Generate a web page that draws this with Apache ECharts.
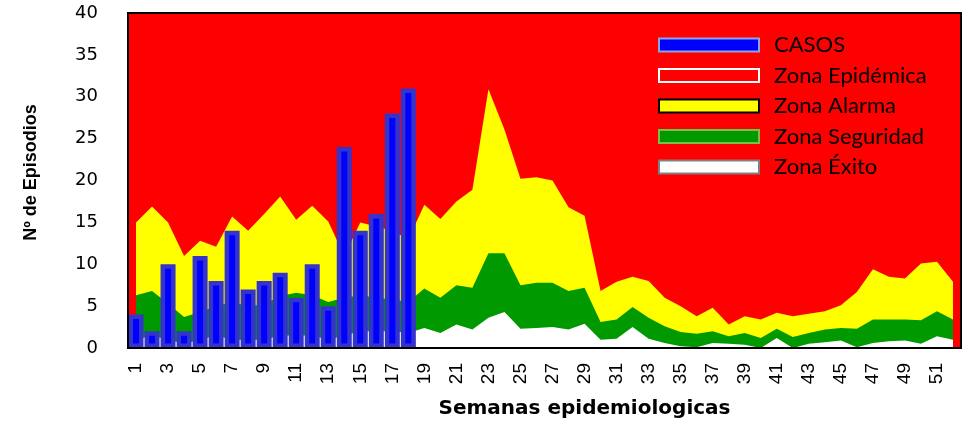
<!DOCTYPE html>
<html>
<head>
<meta charset="utf-8">
<script src="https://cdn.jsdelivr.net/npm/echarts@6/dist/echarts.min.js"></script>
<style>
html,body{margin:0;padding:0;background:#fff;}
#chart{width:968px;height:426px;}
</style>
</head>
<body>
<div id="chart"></div>
<script>
var semanas = ['1','2','3','4','5','6','7','8','9','10','11','12','13','14','15','16','17','18','19','20','21','22','23','24','25','26','27','28','29','30','31','32','33','34','35','36','37','38','39','40','41','42','43','44','45','46','47','48','49','50','51','52'];
var casos = [4,2,10,2,11,8,14,7,8,9,6,10,5,24,14,16,28,31];
var zonaAlarma = [15.0,16.9,15.0,11.0,12.8,12.1,15.7,14.0,16.0,18.1,15.3,17.0,15.1,11.0,15.0,14.5,14.0,13.0,17.1,15.4,17.5,18.9,30.9,26.1,20.2,20.4,20.0,16.8,15.8,6.8,7.9,8.5,8.0,6.0,5.0,3.8,4.8,2.8,3.8,3.4,4.2,3.8,4.1,4.4,5.1,6.7,9.4,8.5,8.3,10.1,10.3,7.9];
var zonaSeguridad = [6.3,6.8,5.3,3.7,4.3,5.0,5.5,5.0,5.2,6.2,6.6,6.3,5.5,6.0,6.3,6.0,5.8,5.5,7.1,6.0,7.5,7.2,11.3,11.3,7.5,7.8,7.8,6.8,7.2,3.1,3.4,4.9,3.6,2.6,1.9,1.7,2.0,1.4,1.8,1.2,2.3,1.3,1.8,2.2,2.4,2.3,3.4,3.4,3.4,3.3,4.4,3.4];
var zonaExito = [1.0,1.5,1.0,0.5,1.0,1.5,1.0,1.0,1.0,1.5,1.5,1.5,1.0,1.5,2.0,2.0,2.0,1.8,2.4,1.8,2.8,2.2,3.6,4.3,2.3,2.4,2.5,2.2,2.9,1.0,1.1,2.5,1.1,0.6,0.2,0.1,0.6,0.5,0.4,0.0,1.2,0.0,0.5,0.7,0.9,0.1,0.6,0.8,0.9,0.5,1.4,1.0];
var yTicks = [0,5,10,15,20,25,30,35,40];

var chart = echarts.init(document.getElementById('chart'));
function areaSeries(name, data, color) {
  return {
    name: name, type: 'line', data: data, symbol: 'none', showSymbol: false,
    lineStyle: {width: 0}, itemStyle: {color: color},
    areaStyle: {color: color, opacity: 1}, z: 2, silent: true
  };
}
chart.setOption({
  animation: false,
  grid: {left: 128, right: 7, top: 13, bottom: 78, show: true,
         backgroundColor: '#ff0000', borderColor: '#000', borderWidth: 2},
  legend: {
    orient: 'vertical', left: 658, top: 34, padding: 0, itemGap: 8.5,
    itemWidth: 100, itemHeight: 13,
    textStyle: {fontFamily: 'Lato', fontSize: 22, color: '#000', padding: [10, 0, 0, 10]},
    data: [
      {name: 'CASOS', icon: 'rect', itemStyle: {color: '#0000ff', borderColor: '#8ea2e8', borderWidth: 2}},
      {name: 'Zona Epidémica', icon: 'rect', itemStyle: {color: '#ff0000', borderColor: '#ffffff', borderWidth: 2}},
      {name: 'Zona Alarma', icon: 'rect', itemStyle: {color: '#ffff00', borderColor: '#000000', borderWidth: 2}},
      {name: 'Zona Seguridad', icon: 'rect', itemStyle: {color: '#009900', borderColor: '#7bbf4a', borderWidth: 2}},
      {name: 'Zona Éxito', icon: 'rect', itemStyle: {color: '#ffffff', borderColor: '#808080', borderWidth: 2}}
    ],
    selectedMode: false
  },
  xAxis: {
    type: 'category', data: semanas, boundaryGap: true, z: 10,
    axisLine: {show: true, lineStyle: {color: '#000', width: 2}},
    axisTick: {show: false},
    axisLabel: {interval: 1, rotate: 90, margin: 15, fontFamily: 'Liberation Sans', fontSize: 19, color: '#000'},
    name: 'Semanas epidemiologicas', nameLocation: 'middle', nameGap: 51,
    nameTextStyle: {fontFamily: 'DejaVu Sans', fontWeight: 'bold', fontSize: 20, color: '#000', padding: [0, 0, 0, 80]}
  },
  yAxis: {
    type: 'value', min: yTicks[0], max: yTicks[yTicks.length - 1], interval: 5, z: 10,
    axisLine: {show: true, lineStyle: {color: '#000', width: 2}},
    axisTick: {show: false}, splitLine: {show: false},
    axisLabel: {margin: 30, fontFamily: 'DejaVu Sans', fontSize: 18, color: '#000'},
    name: 'Nº de Episodios', nameLocation: 'middle', nameGap: 88,
    nameTextStyle: {fontFamily: 'Liberation Sans', fontWeight: 'bold', fontSize: 18, color: '#000', padding: [0, 0, 0, 16]}
  },
  series: [
    {name: 'CASOS', type: 'bar', data: casos, barWidth: 15, z: 5, silent: true,
     itemStyle: {color: '#0000ff', borderColor: '#3434cc', borderWidth: 4.5}},
    {name: 'Zona Epidémica', type: 'line', data: [], itemStyle: {color: '#ff0000'}},
    areaSeries('Zona Alarma', zonaAlarma, '#ffff00'),
    areaSeries('Zona Seguridad', zonaSeguridad, '#009900'),
    areaSeries('Zona Éxito', zonaExito, '#ffffff')
  ]
});
</script>
</body>
</html>
